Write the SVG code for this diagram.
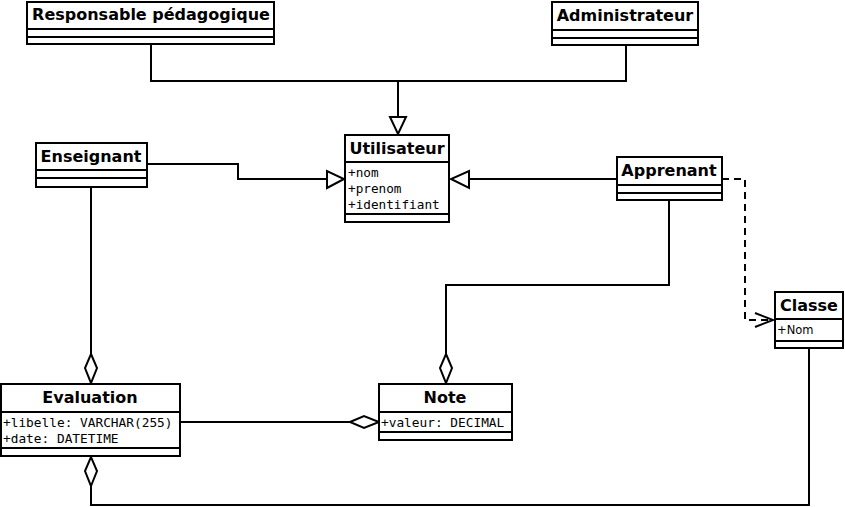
<svg xmlns="http://www.w3.org/2000/svg" width="845" height="507" viewBox="0 0 845 507">
<style>
.box{fill:#fff;stroke:#000;stroke-width:2}
.sep{stroke:#000;stroke-width:2}
.t{font-family:"DejaVu Sans",sans-serif;font-weight:bold;font-size:16px;text-anchor:middle;fill:#000}
.a{font-family:"DejaVu Sans Mono",monospace;font-size:12.8px;fill:#000}
.as{font-family:"DejaVu Sans Mono",monospace;font-size:12.7px;fill:#000}
.ap{font-family:"DejaVu Sans",sans-serif;font-size:11.5px;fill:#000}
.c{fill:none;stroke:#000;stroke-width:2}
.d{fill:none;stroke:#000;stroke-width:2;stroke-dasharray:7,5}
.h{fill:#fff;stroke:#000;stroke-width:2}
</style>
<rect width="845" height="507" fill="#fff"/>
<g id="connectors">
<polyline class="c" points="151,44 151,81 398,81 398,117"/>
<polyline class="c" points="626,45 626,81 398,81"/>
<polygon class="h" points="390,117 406,117 398,134"/>
<polyline class="c" points="147,164 238,164 238,179 327,179"/>
<polygon class="h" points="327,171 327,188 344,179"/>
<polyline class="c" points="617,179 469,179"/>
<polygon class="h" points="469,171 469,188 451,179"/>
<polyline class="c" points="91,188 91,354"/>
<polygon class="h" points="91,354 97,368 91,383 85,368"/>
<polyline class="c" points="669,200 669,285 446,285 446,354"/>
<polygon class="h" points="446,354 452,368 446,383 440,368"/>
<polyline class="c" points="180,422 350,422"/>
<polygon class="h" points="350,422 364,416 379,422 364,428"/>
<polyline class="c" points="809,348 809,505 91,505 91,486"/>
<polygon class="h" points="91,486 97,471 91,457 85,471"/>
<polyline class="d" points="722,179 745,179 745,320 773,320"/>
<polyline class="c" points="755,313 773,320 755,327"/>
</g>
<g id="responsable">
<rect class="box" x="27" y="2" width="247" height="42"/>
<line class="sep" x1="27" y1="29" x2="274" y2="29"/>
<line class="sep" x1="27" y1="37" x2="274" y2="37"/>
<text class="t" x="151" y="20">Responsable pédagogique</text>
</g>
<g id="administrateur">
<rect class="box" x="552" y="2" width="146" height="43"/>
<line class="sep" x1="552" y1="30" x2="698" y2="30"/>
<line class="sep" x1="552" y1="38" x2="698" y2="38"/>
<text class="t" x="625" y="21">Administrateur</text>
</g>
<g id="utilisateur">
<rect class="box" x="345" y="135" width="104" height="87"/>
<line class="sep" x1="345" y1="162" x2="449" y2="162"/>
<line class="sep" x1="345" y1="214" x2="449" y2="214"/>
<text class="t" x="397" y="154">Utilisateur</text>
<text class="as" x="348" y="177">+nom</text>
<text class="as" x="348" y="193">+prenom</text>
<text class="as" x="348" y="209">+identifiant</text>
</g>
<g id="enseignant">
<rect class="box" x="36" y="143" width="111" height="44"/>
<line class="sep" x1="36" y1="170" x2="147" y2="170"/>
<line class="sep" x1="36" y1="178" x2="147" y2="178"/>
<text class="t" x="91" y="162">Enseignant</text>
</g>
<g id="apprenant">
<rect class="box" x="617" y="157" width="105" height="43"/>
<line class="sep" x1="617" y1="185" x2="722" y2="185"/>
<line class="sep" x1="617" y1="193" x2="722" y2="193"/>
<text class="t" x="669" y="176">Apprenant</text>
</g>
<g id="classe">
<rect class="box" x="775" y="292" width="68" height="56"/>
<line class="sep" x1="775" y1="319" x2="843" y2="319"/>
<line class="sep" x1="775" y1="341" x2="843" y2="341"/>
<text class="t" x="809" y="311">Classe</text>
<text class="ap" x="777" y="334">+Nom</text>
</g>
<g id="evaluation">
<rect class="box" x="1" y="384" width="179" height="72"/>
<line class="sep" x1="1" y1="412" x2="180" y2="412"/>
<line class="sep" x1="1" y1="448" x2="180" y2="448"/>
<text class="t" x="90" y="403">Evaluation</text>
<text class="a" x="3" y="427">+libelle: VARCHAR(255)</text>
<text class="a" x="3" y="443">+date: DATETIME</text>
</g>
<g id="note">
<rect class="box" x="379" y="384" width="133" height="56"/>
<line class="sep" x1="379" y1="412" x2="512" y2="412"/>
<line class="sep" x1="379" y1="432" x2="512" y2="432"/>
<text class="t" x="445" y="403">Note</text>
<text class="a" x="381" y="427">+valeur: DECIMAL</text>
</g>
</svg>
